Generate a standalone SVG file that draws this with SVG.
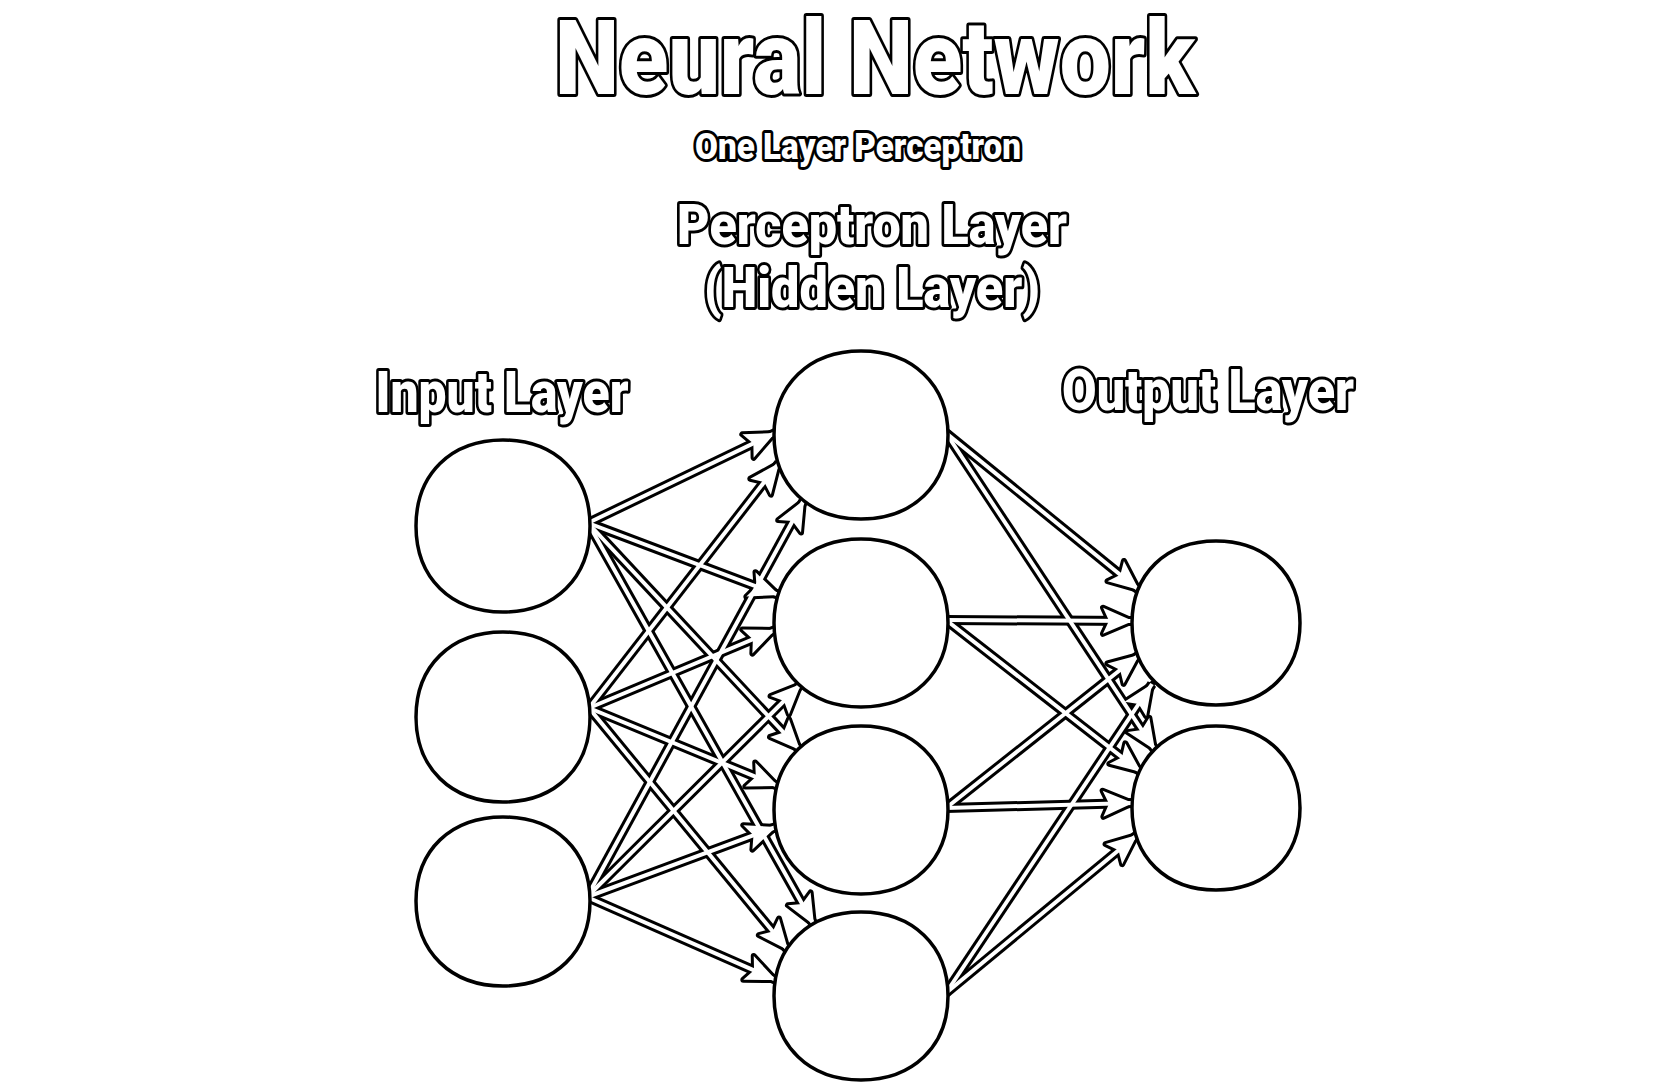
<svg xmlns="http://www.w3.org/2000/svg" xmlns:xlink="http://www.w3.org/1999/xlink" width="1678" height="1088" viewBox="0 0 1678 1088">
<style>
.lbl{font-family:Roboto,"Liberation Sans",sans-serif;font-weight:900;fill:#fff;stroke:#000;stroke-width:6;stroke-linejoin:round;paint-order:stroke;text-anchor:middle}
.node{fill:#fff;stroke:#000;stroke-width:3.5}
.ol use{fill:none;stroke:#000;stroke-width:10;marker-end:url(#ab)}
.il use{fill:none;stroke:#fff;stroke-width:4;marker-end:url(#aw)}
</style>
<defs>
<marker id="ab" markerUnits="userSpaceOnUse" orient="auto" refX="30" refY="0" markerWidth="60" markerHeight="60" overflow="visible">
<path d="M0,-13 L30,0 L0,13 L6,0 Z" fill="#000" stroke="#000" stroke-width="6" stroke-linejoin="round"/>
</marker>
<marker id="aw" markerUnits="userSpaceOnUse" orient="auto" refX="30" refY="0" markerWidth="60" markerHeight="60" overflow="visible">
<path d="M0,-13 L30,0 L0,13 L6,0 Z" fill="#fff"/>
</marker>
<path id="c1" d="M588,523 L775,433"/>
<path id="c2" d="M588,523 L779,595"/>
<path id="c3" d="M588,523 L800,750"/>
<path id="c4" d="M588,523 L814,925"/>
<path id="c5" d="M589,708 L779,463"/>
<path id="c6" d="M589,708 L775,630"/>
<path id="c7" d="M589,708 L778,786"/>
<path id="c8" d="M589,708 L788,950"/>
<path id="c9" d="M587,897 L804,500"/>
<path id="c10" d="M587,897 L801,684"/>
<path id="c11" d="M587,897 L776,827"/>
<path id="c12" d="M587,897 L776,980"/>
<path id="c13" d="M946,433 L1139,590"/>
<path id="c14" d="M946,433 L1155,750"/>
<path id="c15" d="M946,620 L1133,621"/>
<path id="c16" d="M946,620 L1141,772"/>
<path id="c17" d="M946,808 L1139,655"/>
<path id="c18" d="M946,808 L1133,803"/>
<path id="c19" d="M946,993 L1152,684"/>
<path id="c20" d="M946,993 L1137,835"/>
</defs>
<rect width="1678" height="1088" fill="#fff"/>
<g id="labels">
<text class="lbl" x="875" y="94" font-size="104" textLength="640" lengthAdjust="spacingAndGlyphs">Neural Network</text>
<text class="lbl" x="858" y="159" font-size="36" textLength="326" lengthAdjust="spacingAndGlyphs">One Layer Perceptron</text>
<text class="lbl" x="872" y="244" font-size="56" textLength="390" lengthAdjust="spacingAndGlyphs">Perceptron Layer</text>
<text class="lbl" x="872" y="307" font-size="56" textLength="336" lengthAdjust="spacingAndGlyphs">(Hidden Layer)</text>
<text class="lbl" x="502" y="412" font-size="57" textLength="253" lengthAdjust="spacingAndGlyphs">Input Layer</text>
<text class="lbl" x="1208" y="410" font-size="57" textLength="292" lengthAdjust="spacingAndGlyphs">Output Layer</text>
</g>
<g id="connectors">
<g class="ol">
<use xlink:href="#c1"/><use xlink:href="#c2"/><use xlink:href="#c3"/><use xlink:href="#c4"/>
<use xlink:href="#c5"/><use xlink:href="#c6"/><use xlink:href="#c7"/><use xlink:href="#c8"/>
<use xlink:href="#c9"/><use xlink:href="#c10"/><use xlink:href="#c11"/><use xlink:href="#c12"/>
<use xlink:href="#c13"/><use xlink:href="#c14"/><use xlink:href="#c15"/><use xlink:href="#c16"/>
<use xlink:href="#c17"/><use xlink:href="#c18"/><use xlink:href="#c19"/><use xlink:href="#c20"/>
</g>
<g class="il">
<use xlink:href="#c1"/><use xlink:href="#c2"/><use xlink:href="#c3"/><use xlink:href="#c4"/>
<use xlink:href="#c5"/><use xlink:href="#c6"/><use xlink:href="#c7"/><use xlink:href="#c8"/>
<use xlink:href="#c9"/><use xlink:href="#c10"/><use xlink:href="#c11"/><use xlink:href="#c12"/>
<use xlink:href="#c13"/><use xlink:href="#c14"/><use xlink:href="#c15"/><use xlink:href="#c16"/>
<use xlink:href="#c17"/><use xlink:href="#c18"/><use xlink:href="#c19"/><use xlink:href="#c20"/>
</g>
</g>
<g id="input1"><path class="node" d="M416,526 C416,474 451,440 503,440 C555,440 590,474 590,526 C590,578 555,612 503,612 C451,612 416,578 416,526 Z"/></g>
<g id="input2"><path class="node" d="M416,717 C416,666 451,632 503,632 C555,632 590,666 590,717 C590,768 555,802 503,802 C451,802 416,768 416,717 Z"/></g>
<g id="input3"><path class="node" d="M416,901 C416,850 451,817 503,817 C555,817 590,850 590,901 C590,952 555,986 503,986 C451,986 416,952 416,901 Z"/></g>
<g id="hidden1"><path class="node" d="M774,435 C774,385 809,351 861,351 C913,351 948,385 948,435 C948,485 913,519 861,519 C809,519 774,485 774,435 Z"/></g>
<g id="hidden2"><path class="node" d="M774,623 C774,573 809,539 861,539 C913,539 948,573 948,623 C948,673 913,707 861,707 C809,707 774,673 774,623 Z"/></g>
<g id="hidden3"><path class="node" d="M774,810 C774,760 809,726 861,726 C913,726 948,760 948,810 C948,860 913,894 861,894 C809,894 774,860 774,810 Z"/></g>
<g id="hidden4"><path class="node" d="M774,996 C774,946 809,912 861,912 C913,912 948,946 948,996 C948,1046 913,1080 861,1080 C809,1080 774,1046 774,996 Z"/></g>
<g id="output1"><path class="node" d="M1132,623 C1132,574 1166,541 1216,541 C1266,541 1300,574 1300,623 C1300,672 1266,705 1216,705 C1166,705 1132,672 1132,623 Z"/></g>
<g id="output2"><path class="node" d="M1132,808 C1132,759 1166,726 1216,726 C1266,726 1300,759 1300,808 C1300,857 1266,890 1216,890 C1166,890 1132,857 1132,808 Z"/></g>
</svg>
